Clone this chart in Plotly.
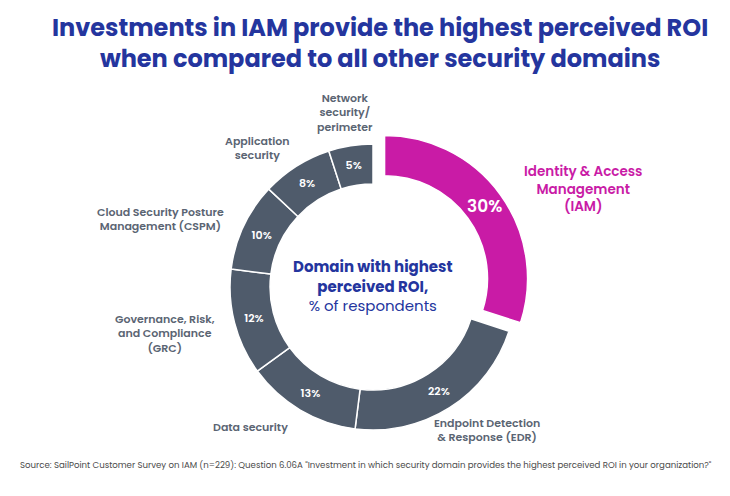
import math
import plotly.graph_objects as go

# domain shares, clockwise from 12 o'clock
domains = ['Identity & Access Management (IAM)', 'Endpoint Detection & Response (EDR)',
           'Data security', 'Governance, Risk, and Compliance (GRC)',
           'Cloud Security Posture Management (CSPM)', 'Application security',
           'Network security/perimeter']
shares = [30, 22, 13, 12, 10, 8, 5]
label_lines = ['Identity & Access<br>Management<br>(IAM)',
               'Endpoint Detection<br>& Response (EDR)',
               'Data security',
               'Governance, Risk,<br>and Compliance<br>(GRC)',
               'Cloud Security Posture<br>Management (CSPM)',
               'Application<br>security',
               'Network<br>security/<br>perimeter']

W, H = 730, 496
FONT = 'Poppins, Inter, Noto Sans, sans-serif'
MAGENTA = '#c91ba6'
SLATE = '#4f5b6b'
LABEL_GREY = '#5b6573'
BLUE = '#24359e'

# pie geometry in pixels
cx, cy, r, pull, hole = 373, 287, 143, 0.1, 0.72
half = r * (1 + pull)

colors = [MAGENTA] + [SLATE] * (len(shares) - 1)
# the big IAM value is written as an annotation (it would not fit the ring unscaled)
templates = [''] + ['%{value}%'] * (len(shares) - 1)

fig = go.Figure(go.Pie(
    labels=domains,
    values=shares,
    sort=False,
    direction='clockwise',
    rotation=0,
    hole=hole,
    pull=[pull] + [0] * (len(shares) - 1),
    marker=dict(colors=colors, line=dict(color='white', width=1.5)),
    texttemplate=templates,
    textposition='inside',
    insidetextorientation='horizontal',
    textfont=dict(family=FONT, color='white', size=11, weight=600),
    hoverinfo='label+percent',
    showlegend=False,
    domain=dict(x=[(cx - half) / W, (cx + half) / W],
                y=[(H - cy - half) / H, (H - cy + half) / H]),
))

# label positions (pixel centres) for each slice
label_pos = [(583, 189), (487, 430), (250, 427), (165, 333), (160, 219), (257, 148), (345, 112)]

annotations = []
for i, (txt, (x, y)) in enumerate(zip(label_lines, label_pos)):
    annotations.append(dict(
        x=x / W, y=1 - y / H, xref='paper', yref='paper', text=txt, showarrow=False,
        xanchor='center', yanchor='middle', align='center',
        font=dict(family=FONT, size=13.5 if i == 0 else 11,
                  color=MAGENTA if i == 0 else LABEL_GREY, weight=600)))

# IAM value at the middle of its (pulled) ring segment
mid = 2 * math.pi * (shares[0] / 2) / sum(shares)
rad = r * (1 + hole) / 2 + r * pull
annotations.append(dict(
    x=(cx + rad * math.sin(mid)) / W, y=1 - (cy - rad * math.cos(mid)) / H,
    xref='paper', yref='paper', showarrow=False, text=f'{shares[0]}%',
    xanchor='center', yanchor='middle',
    font=dict(family=FONT, size=17, color='white', weight=600)))

annotations.append(dict(
    x=cx / W, y=1 - 286 / H, xref='paper', yref='paper', showarrow=False,
    text='<b>Domain with highest<br>perceived ROI,</b><br>% of respondents',
    xanchor='center', yanchor='middle', align='center',
    font=dict(family=FONT, size=15, color=BLUE)))

annotations.append(dict(
    x=380 / W, y=1 - 43 / H, xref='paper', yref='paper', showarrow=False,
    text='Investments in IAM provide the highest perceived ROI<br>when compared to all other security domains',
    xanchor='center', yanchor='middle', align='center',
    font=dict(family=FONT, size=24, color=BLUE, weight=700)))

annotations.append(dict(
    x=18 / W, y=1 - 465 / H, xref='paper', yref='paper', showarrow=False,
    text='Source: SailPoint Customer Survey on IAM (n=229): Question 6.06A "Investment in which security domain provides the highest perceived ROI in your organization?"',
    xanchor='left', yanchor='middle', align='left',
    font=dict(family=FONT, size=8.6, color='#4a4a4a')))

fig.update_layout(
    width=W, height=H,
    margin=dict(l=0, r=0, t=0, b=0),
    paper_bgcolor='white', plot_bgcolor='white',
    annotations=annotations,
)

# drop the browser's default body margin so the figure sits at the page corner
fig.write_html("out.html", config={'displayModeBar': False},
               post_script="document.body.style.margin='0';")
